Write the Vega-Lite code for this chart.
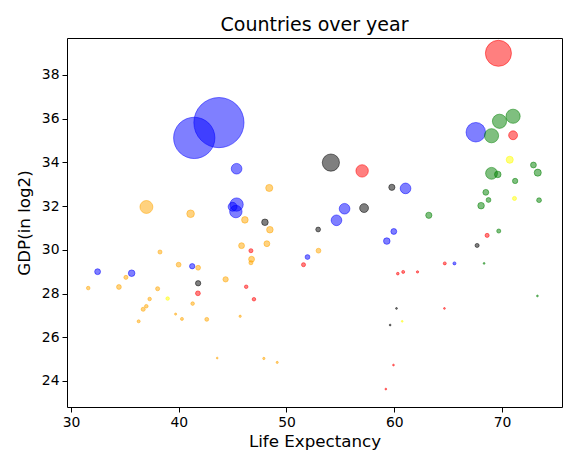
{
  "$schema": "https://vega.github.io/schema/vega-lite/v6.json",
  "autosize": "none",
  "width": 495,
  "height": 369,
  "padding": {"left": 67, "top": 38, "right": 6, "bottom": 49},
  "background": "white",
  "title": {
    "text": "Countries over year",
    "font": "DejaVu Sans",
    "fontSize": 19,
    "fontWeight": "normal",
    "color": "black",
    "offset": 5,
    "dy": 21,
    "baseline": "bottom",
    "anchor": "middle"
  },
  "config": {
    "view": {"stroke": "black", "strokeWidth": 1},
    "axis": {
      "grid": false,
      "domain": false,
      "tickColor": "black",
      "tickSize": 5,
      "tickWidth": 1,
      "labelFont": "DejaVu Sans",
      "labelFontSize": 13.9,
      "labelColor": "black",
      "titleFont": "DejaVu Sans",
      "titleFontSize": 16.7,
      "titleFontWeight": "normal",
      "titleColor": "black"
    }
  },
  "data": {
    "values": [
      {"le": 37.0, "gdp": 31.96, "c": "Africa", "pop": 83.7},
      {"le": 41.1, "gdp": 31.65, "c": "Africa", "pop": 29},
      {"le": 38.26, "gdp": 29.9, "c": "Africa", "pop": 8.3},
      {"le": 39.99, "gdp": 29.32, "c": "Africa", "pop": 11.5},
      {"le": 41.8, "gdp": 29.18, "c": "Africa", "pop": 11.5},
      {"le": 35.1, "gdp": 28.74, "c": "Africa", "pop": 8.3},
      {"le": 44.35, "gdp": 28.65, "c": "Africa", "pop": 14.1},
      {"le": 31.6, "gdp": 28.25, "c": "Africa", "pop": 6.3},
      {"le": 34.45, "gdp": 28.3, "c": "Africa", "pop": 11.5},
      {"le": 38.04, "gdp": 28.22, "c": "Africa", "pop": 8.3},
      {"le": 37.3, "gdp": 27.75, "c": "Africa", "pop": 6.3},
      {"le": 41.29, "gdp": 27.54, "c": "Africa", "pop": 6.3},
      {"le": 36.99, "gdp": 27.42, "c": "Africa", "pop": 6.3},
      {"le": 36.7, "gdp": 27.28, "c": "Africa", "pop": 8.3},
      {"le": 39.71, "gdp": 27.06, "c": "Africa", "pop": 2.3},
      {"le": 40.3, "gdp": 26.84, "c": "Africa", "pop": 4.5},
      {"le": 42.6, "gdp": 26.82, "c": "Africa", "pop": 7.6},
      {"le": 36.28, "gdp": 26.73, "c": "Africa", "pop": 4.5},
      {"le": 48.4, "gdp": 32.83, "c": "Africa", "pop": 25.1},
      {"le": 46.14, "gdp": 31.37, "c": "Africa", "pop": 21.5},
      {"le": 48.46, "gdp": 30.92, "c": "Africa", "pop": 21.5},
      {"le": 45.83, "gdp": 30.19, "c": "Africa", "pop": 17.1},
      {"le": 48.18, "gdp": 30.28, "c": "Africa", "pop": 17.1},
      {"le": 46.76, "gdp": 29.57, "c": "Africa", "pop": 17.1},
      {"le": 46.7, "gdp": 29.41, "c": "Africa", "pop": 8.3},
      {"le": 45.7, "gdp": 26.96, "c": "Africa", "pop": 2.7},
      {"le": 43.57, "gdp": 25.05, "c": "Africa", "pop": 1.6},
      {"le": 47.9, "gdp": 25.03, "c": "Africa", "pop": 2.7},
      {"le": 49.14, "gdp": 24.85, "c": "Africa", "pop": 2.3},
      {"le": 52.97, "gdp": 29.96, "c": "Africa", "pop": 11.5},
      {"le": 38.97, "gdp": 27.77, "c": "Oceania", "pop": 6.3},
      {"le": 70.72, "gdp": 34.12, "c": "Oceania", "pop": 25.1},
      {"le": 71.16, "gdp": 32.35, "c": "Oceania", "pop": 8.3},
      {"le": 60.74, "gdp": 26.73, "c": "Oceania", "pop": 1.6},
      {"le": 43.73, "gdp": 35.82, "c": "Asia", "pop": 1258},
      {"le": 41.44, "gdp": 35.12, "c": "Asia", "pop": 853},
      {"le": 45.37, "gdp": 33.71, "c": "Asia", "pop": 56.5},
      {"le": 45.37, "gdp": 32.07, "c": "Asia", "pop": 88.4},
      {"le": 45.0, "gdp": 31.97, "c": "Asia", "pop": 39.3},
      {"le": 45.3, "gdp": 31.75, "c": "Asia", "pop": 77},
      {"le": 41.25, "gdp": 29.25, "c": "Asia", "pop": 14.1},
      {"le": 32.47, "gdp": 29.0, "c": "Asia", "pop": 17.1},
      {"le": 35.63, "gdp": 28.93, "c": "Asia", "pop": 21.5},
      {"le": 55.39, "gdp": 31.88, "c": "Asia", "pop": 56.5},
      {"le": 54.64, "gdp": 31.35, "c": "Asia", "pop": 56.5},
      {"le": 61.05, "gdp": 32.81, "c": "Asia", "pop": 56.5},
      {"le": 59.96, "gdp": 30.84, "c": "Asia", "pop": 17.1},
      {"le": 59.31, "gdp": 30.4, "c": "Asia", "pop": 21.5},
      {"le": 51.95, "gdp": 29.67, "c": "Asia", "pop": 11.5},
      {"le": 65.59, "gdp": 29.38, "c": "Asia", "pop": 4.5},
      {"le": 67.57, "gdp": 35.38, "c": "Asia", "pop": 190},
      {"le": 41.78, "gdp": 28.01, "c": "Americas", "pop": 11.5},
      {"le": 46.7, "gdp": 29.96, "c": "Americas", "pop": 8.3},
      {"le": 46.26, "gdp": 28.31, "c": "Americas", "pop": 6.3},
      {"le": 46.98, "gdp": 27.74, "c": "Americas", "pop": 6.3},
      {"le": 57.02, "gdp": 33.61, "c": "Americas", "pop": 77},
      {"le": 51.58, "gdp": 29.32, "c": "Americas", "pop": 8.3},
      {"le": 64.69, "gdp": 29.38, "c": "Americas", "pop": 4.5},
      {"le": 60.33, "gdp": 28.91, "c": "Americas", "pop": 3.5},
      {"le": 60.83, "gdp": 28.99, "c": "Americas", "pop": 4.5},
      {"le": 62.16, "gdp": 28.99, "c": "Americas", "pop": 2.7},
      {"le": 64.66, "gdp": 27.32, "c": "Americas", "pop": 1.6},
      {"le": 59.93, "gdp": 24.73, "c": "Americas", "pop": 1.6},
      {"le": 59.22, "gdp": 23.63, "c": "Americas", "pop": 1.6},
      {"le": 69.67, "gdp": 38.99, "c": "Americas", "pop": 339},
      {"le": 71.03, "gdp": 35.24, "c": "Americas", "pop": 39.3},
      {"le": 68.62, "gdp": 30.66, "c": "Americas", "pop": 8.3},
      {"le": 41.8, "gdp": 28.47, "c": "Other", "pop": 14.1},
      {"le": 48.0, "gdp": 31.26, "c": "Other", "pop": 21.5},
      {"le": 54.12, "gdp": 33.99, "c": "Other", "pop": 148},
      {"le": 57.2, "gdp": 31.91, "c": "Other", "pop": 39.3},
      {"le": 59.78, "gdp": 32.86, "c": "Other", "pop": 19.2},
      {"le": 52.94, "gdp": 30.93, "c": "Other", "pop": 11.5},
      {"le": 60.21, "gdp": 27.32, "c": "Other", "pop": 1.6},
      {"le": 59.62, "gdp": 26.56, "c": "Other", "pop": 1.6},
      {"le": 67.69, "gdp": 30.2, "c": "Other", "pop": 8.3},
      {"le": 63.21, "gdp": 31.58, "c": "Europe", "pop": 19.2},
      {"le": 68.34, "gdp": 29.38, "c": "Europe", "pop": 1.6},
      {"le": 73.29, "gdp": 27.89, "c": "Europe", "pop": 1.6},
      {"le": 69.03, "gdp": 35.22, "c": "Europe", "pop": 100.5},
      {"le": 69.77, "gdp": 35.88, "c": "Europe", "pop": 100.5},
      {"le": 71.03, "gdp": 36.11, "c": "Europe", "pop": 100.5},
      {"le": 72.92, "gdp": 33.88, "c": "Europe", "pop": 17.1},
      {"le": 73.32, "gdp": 33.53, "c": "Europe", "pop": 25.1},
      {"le": 69.03, "gdp": 33.5, "c": "Europe", "pop": 70.5},
      {"le": 69.61, "gdp": 33.45, "c": "Europe", "pop": 21.5},
      {"le": 71.22, "gdp": 33.15, "c": "Europe", "pop": 14.1},
      {"le": 68.5, "gdp": 32.63, "c": "Europe", "pop": 17.1},
      {"le": 68.75, "gdp": 32.28, "c": "Europe", "pop": 11.5},
      {"le": 73.44, "gdp": 32.27, "c": "Europe", "pop": 11.5},
      {"le": 68.06, "gdp": 32.02, "c": "Europe", "pop": 21.5},
      {"le": 69.7, "gdp": 30.86, "c": "Europe", "pop": 8.3}
    ]
  },
  "mark": {
    "type": "point",
    "shape": "circle",
    "filled": true,
    "fillOpacity": 0.5,
    "strokeOpacity": 0.5,
    "strokeWidth": 1,
    "clip": true
  },
  "encoding": {
    "x": {
      "field": "le",
      "type": "quantitative",
      "title": "Life Expectancy",
      "scale": {"domain": [29.63, 75.57], "nice": false, "zero": false},
      "axis": {"values": [30, 40, 50, 60, 70], "labelPadding": 3, "titlePadding": 5}
    },
    "y": {
      "field": "gdp",
      "type": "quantitative",
      "title": "GDP(in log2)",
      "scale": {"domain": [22.81, 39.69], "nice": false, "zero": false},
      "axis": {"values": [24, 26, 28, 30, 32, 34, 36, 38], "labelPadding": 3, "titlePadding": 8}
    },
    "color": {
      "field": "c",
      "type": "nominal",
      "legend": null,
      "scale": {
        "domain": ["Africa", "Asia", "Americas", "Europe", "Oceania", "Other"],
        "range": ["#ffa500", "#0000ff", "#ff0000", "#008000", "#ffff00", "#000000"]
      }
    },
    "stroke": {
      "field": "c",
      "type": "nominal",
      "legend": null,
      "scale": {
        "domain": ["Africa", "Asia", "Americas", "Europe", "Oceania", "Other"],
        "range": ["#ffa500", "#0000ff", "#ff0000", "#008000", "#ffff00", "#000000"]
      }
    },
    "size": {
      "field": "pop",
      "type": "quantitative",
      "legend": null,
      "scale": {"type": "linear", "domain": [0, 1258], "range": [0, 2516], "zero": true}
    }
  }
}
